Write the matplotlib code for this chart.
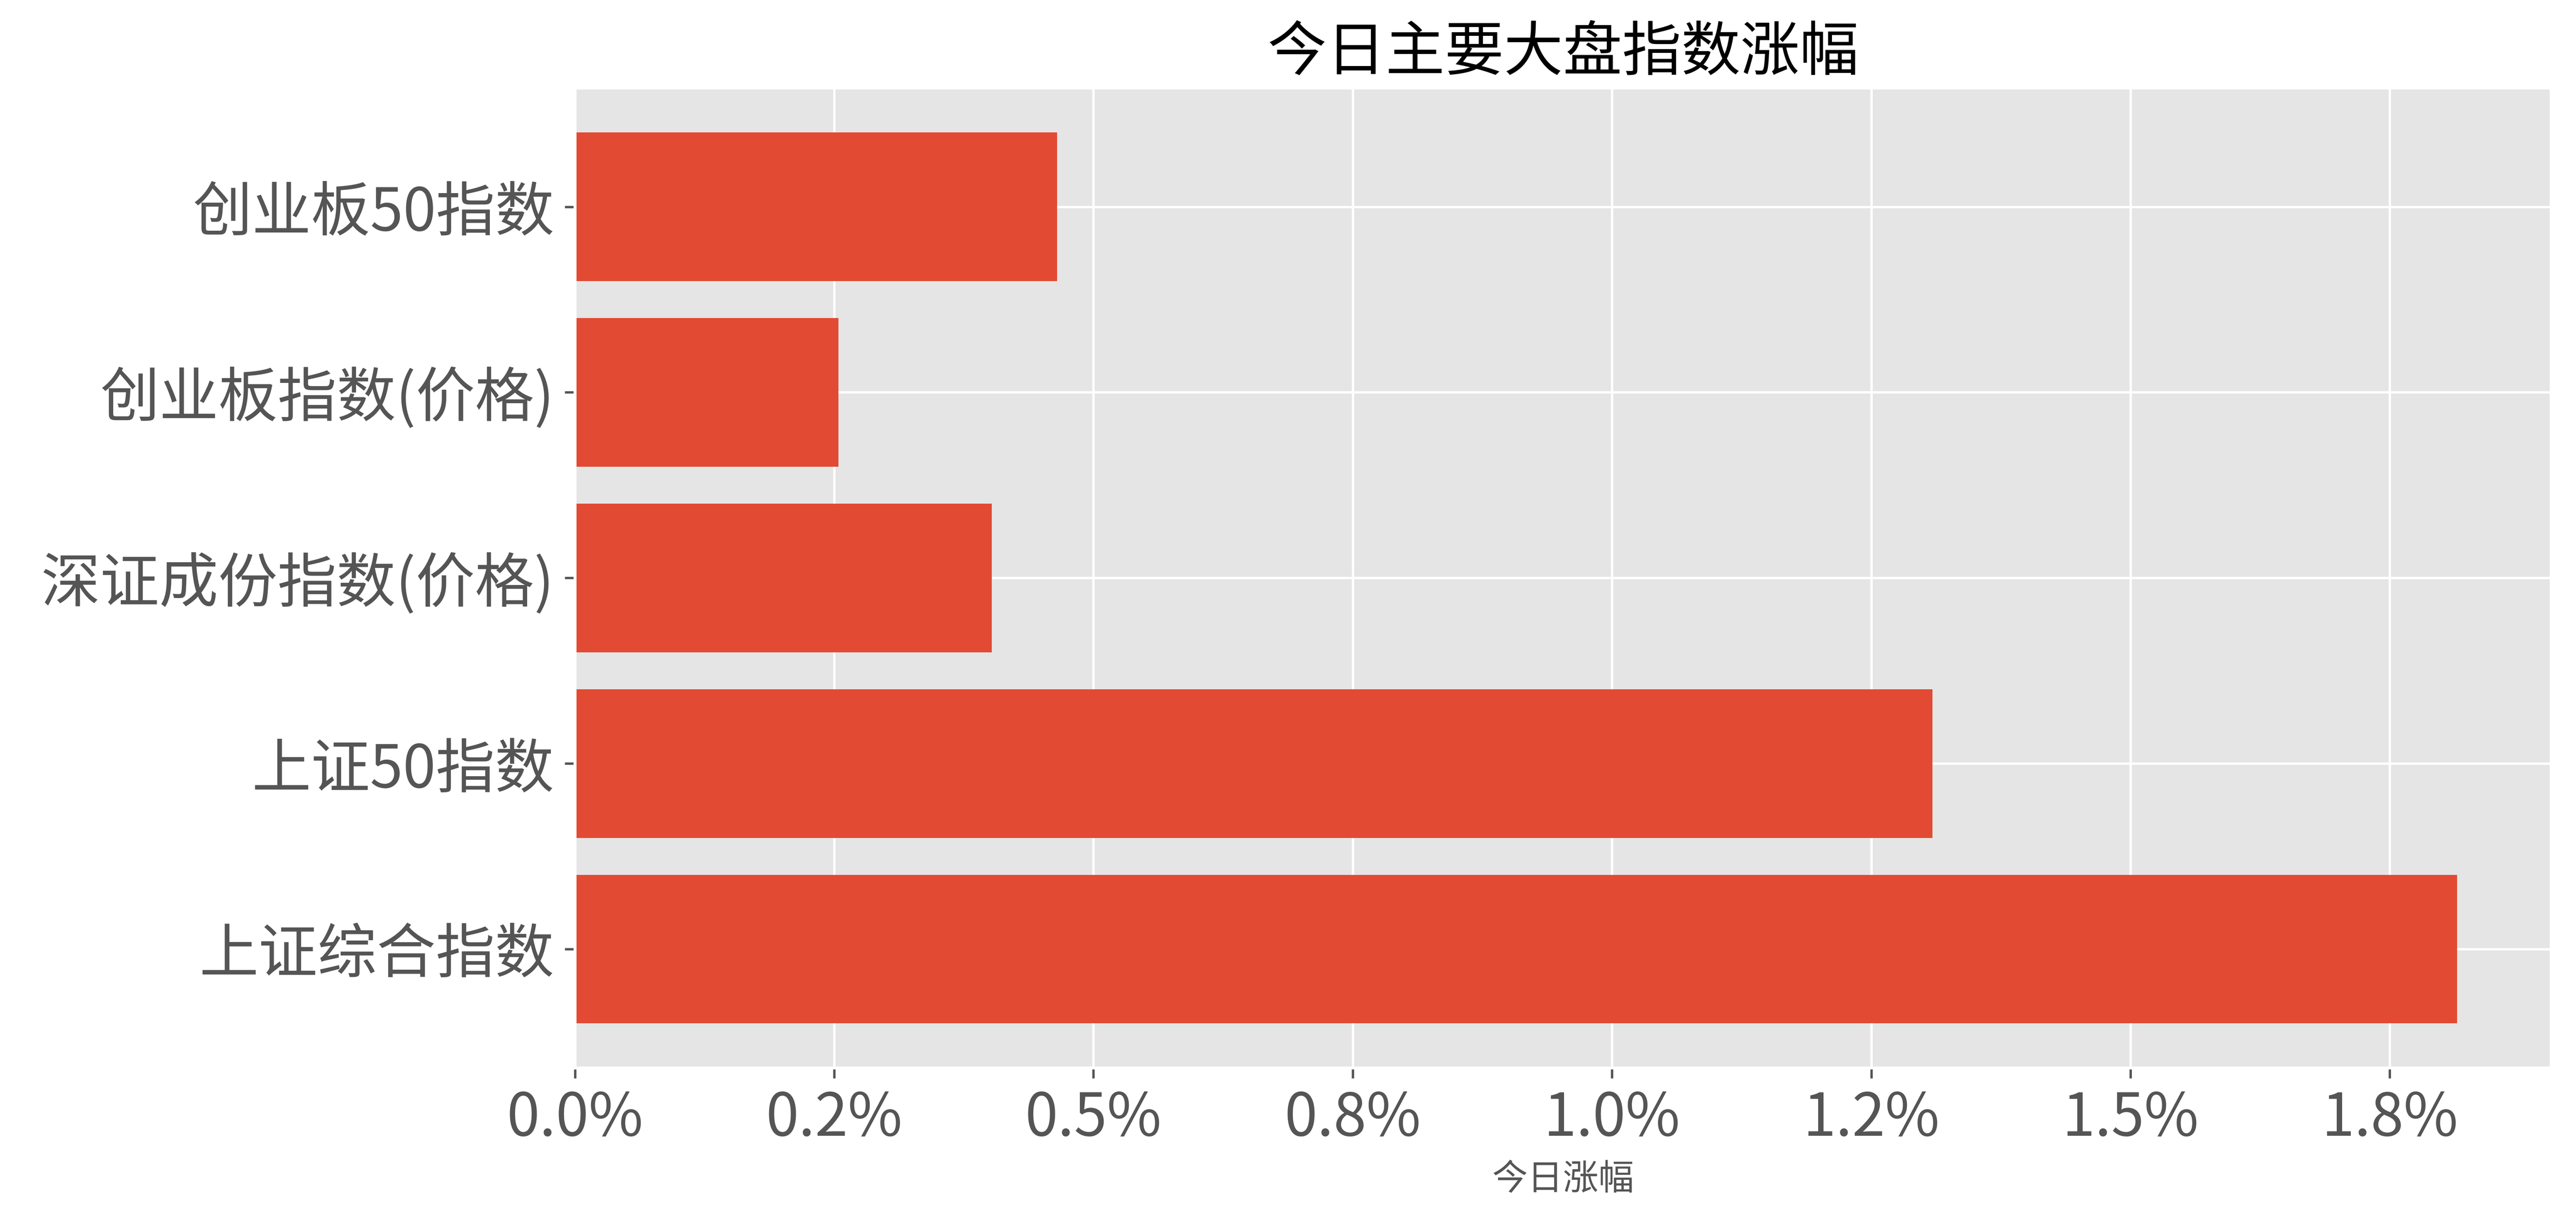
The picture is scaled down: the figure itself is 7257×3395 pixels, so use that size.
import matplotlib
matplotlib.use("Agg")
import matplotlib.pyplot as plt
from matplotlib.ticker import FuncFormatter, MultipleLocator

plt.style.use("ggplot")
plt.rcParams['font.family'] = ['Noto Sans CJK SC', 'DejaVu Sans']
plt.rcParams['axes.unicode_minus'] = False

categories = ["上证综合指数", "上证50指数", "深证成份指数(价格)", "创业板指数(价格)", "创业板50指数"]
changes = [1.815, 1.309, 0.402, 0.254, 0.465]
title = "今日主要大盘指数涨幅"
xlabel = "今日涨幅"

fig = plt.figure(figsize=(7257 / 600, 3395 / 600), dpi=600)
ax = fig.add_axes([0.2232, 0.1137, 0.9904 - 0.2232, 0.927 - 0.1137])
ax.barh(categories, changes, color="#E24A33", height=0.8)
ax.xaxis.set_major_locator(MultipleLocator(0.25))
ax.xaxis.set_major_formatter(FuncFormatter(lambda v, p: "{:.1f}%".format(v)))
ax.tick_params(axis="both", labelsize=20, colors="#555555")
ax.set_title(title, fontsize=20, color="black")
ax.set_xlabel(xlabel, fontsize=12, color="#555555")
fig.savefig("out.png", dpi=600)
